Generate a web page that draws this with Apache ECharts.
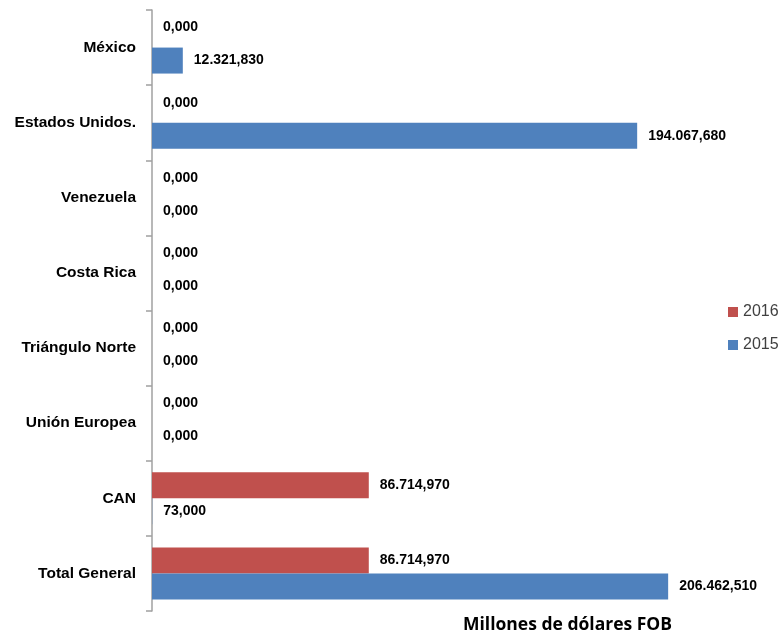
<!DOCTYPE html>
<html>
<head>
<meta charset="utf-8">
<script src="https://cdn.jsdelivr.net/npm/echarts@6/dist/echarts.min.js"></script>
<style>
html,body{margin:0;padding:0;background:#fff;}
#main{width:779px;height:637px;}
</style>
</head>
<body>
<div id="main"></div>
<script>
const categories = ['México','Estados Unidos.','Venezuela','Costa Rica','Triángulo Norte','Unión Europea','CAN','Total General'];
const seriesNames = ['2016','2015'];
const values2016 = [0,0,0,0,0,0,86714.97,86714.97];
const values2015 = [12321.83,194067.68,0,0,0,0,73,206462.51];
const axisTitle = 'Millones de dólares FOB';

function fmt(v){
  const p = v.toFixed(3).split('.');
  return p[0].replace(/\B(?=(\d{3})+(?!\d))/g,'.') + ',' + p[1];
}
const FONT = '"Liberation Sans", Arial, sans-serif';
const labelBase = {show:true, position:'right', distance:11, color:'#000', fontFamily:FONT, fontWeight:'bold', fontSize:14, formatter:p=>fmt(p.value)};

function items(arr, zeroShift){
  return arr.map(v => (v===0 && zeroShift) ? {value:v, label:{offset:[0,zeroShift]}} : v);
}

const chart = echarts.init(document.getElementById('main'));
chart.setOption({
  animation:false,
  backgroundColor:'#fff',
  title:{text:axisTitle, left:463, top:616, padding:0, textStyle:{fontFamily:'"Open Sans", sans-serif', fontWeight:'bold', fontSize:17.5, color:'#000'}},
  legend:{orient:'vertical', left:728, top:304, padding:0, itemWidth:10, itemHeight:10, itemGap:17, itemTextGap:4, icon:'rect', itemStyle:{borderWidth:0},
    textStyle:{fontFamily:FONT, fontSize:16, color:'#404040'}, data:seriesNames},
  grid:{left:152, right:2, top:10, bottom:26},
  xAxis:{type:'value', min:0, max:250000, show:false, splitLine:{show:false}},
  yAxis:{type:'category', inverse:true, data:categories,
    axisLine:{show:true, lineStyle:{color:'#a0a0a0', width:1.5}},
    axisTick:{show:true, length:6, lineStyle:{color:'#a0a0a0', width:1.5}},
    axisLabel:{margin:16, color:'#000', fontFamily:FONT, fontWeight:'bold', fontSize:15.5}},
  series:[
    {name:seriesNames[0], type:'bar', data:items(values2016,-7), barWidth:26, barGap:'0%', itemStyle:{color:'#C0504D'}, label:labelBase},
    {name:seriesNames[1], type:'bar', data:items(values2015,0), barWidth:26, barGap:'0%', itemStyle:{color:'#4F81BD'}, label:labelBase}
  ]
});
</script>
</body>
</html>
